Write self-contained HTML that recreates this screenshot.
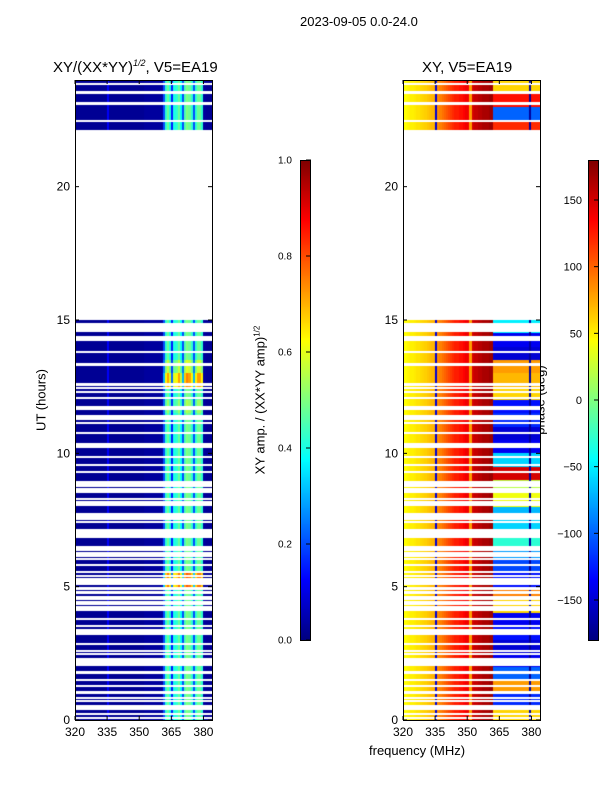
<!DOCTYPE html>
<html><head><meta charset="utf-8"><style>
body{margin:0;background:#fff;width:600px;height:800px;position:relative;overflow:hidden;font-family:"Liberation Sans",sans-serif;color:#000}
.t{position:absolute;white-space:nowrap}
canvas,svg{position:absolute}
</style></head><body>
<div class="t" style="left:300px;top:14px;font-size:13px">2023-09-05 0.0-24.0</div>
<div class="t" style="left:53px;top:58px;font-size:15px">XY/(XX*YY)<sup style="font-size:9px;font-style:italic">1/2</sup>, V5=EA19</div>
<div class="t" style="left:422px;top:59px;font-size:15px">XY, V5=EA19</div>
<div class="t" style="left:41px;top:400px;font-size:13px;transform:translate(-50%,-50%) rotate(-90deg)">UT (hours)</div>
<div class="t" style="left:369px;top:743px;font-size:13px">frequency (MHz)</div>
<div class="t" style="left:260px;top:400px;font-size:13px;transform:translate(-50%,-50%) rotate(-90deg)">XY amp. / (XX*YY amp)<sup style="font-size:8px">1/2</sup></div>
<div class="t" style="left:540px;top:400px;font-size:13px;transform:translate(-50%,-50%) rotate(-90deg)">phase (deg)</div>
<canvas id="amp" width="137" height="640" style="left:75px;top:80px"></canvas>
<canvas id="ph" width="137" height="640" style="left:403px;top:80px"></canvas>
<canvas id="cb1" width="10" height="480" style="left:300px;top:160px"></canvas>
<canvas id="cb2" width="10" height="480" style="left:588px;top:160px"></canvas>
<svg id="ov" width="600" height="800" style="left:0;top:0"></svg>
<script>
// ---- data ----
const freqMin = 320, freqMax = 384;
const ampProfile = [ // 1 MHz bins 320..383
0.02,0.02,0.02,0.02,0.02,0.02,0.02,0.02,0.02,0.02,0.02,0.02,0.02,0.02,0.02,0.12,
0.02,0.02,0.02,0.02,0.02,0.02,0.02,0.02,0.02,0.02,0.02,0.02,0.02,0.02,0.02,0.02,
0.03,0.03,0.03,0.03,0.03,0.03,0.03,0.03,0.03,0.2,0.42,0.48,0.4,0.15,0.4,0.42,
0.48,0.38,0.2,0.45,0.5,0.48,0.42,0.2,0.42,0.48,0.48,0.42,0.03,0.02,0.02,0.02];
const phaseProfile = [ // low band 1 MHz bins 320..361
45,45,48,50,50,52,55,55,58,60,62,65,68,70,72,-150,
85,90,95,100,105,110,115,120,125,125,130,130,135,140,140,80,
150,155,155,160,160,165,165,165,170,170];
const sectionHours = [0,0.5,1,1.5,2,2.5,3,3.5,4,4.5,5,5.5,6,6.5,7,7.5,8,8.5,9,9.5,10,10.5,11,11.5,12,12.5,13,13.5,14,14.5,22,22.5,23,23.5];
const hiPhase = [60,-120,80,-100,-140,-150,-130,-140,60,90,-130,-110,-80,-30,-60,-70,40,20,150,-60,-140,-150,-120,-130,60,70,80,-150,-140,-50,120,-100,130,60];
const ampGain = [1,1,1,1,1,1,1,1,1,1,1.6,1,1,1,1,1,1,1,1,1,1,1,1,1.1,1,1.5,1.2,1,1,1,1,1,1,1];
const dataRanges = [[0,15.06],[22.12,24]];
const gapHours = [14.83,14.73,14.65,14.58,14.30,13.79,13.33,12.58,12.45,12.29,12.08,11.75,11.67,11.35,11.13,10.75,10.29,9.85,9.56,9.31,8.85,8.66,8.57,8.29,8.12,7.72,7.63,7.54,7.44,7.13,7.03,6.95,6.85,6.47,6.37,6.20,6.03,5.82,5.56,5.41,5.22,5.10,4.93,4.78,4.62,4.53,4.44,4.34,4.19,3.78,3.53,3.30,2.84,2.59,2.49,2.19,1.78,1.49,1.28,1.03,0.84,0.71,0.46,0.21,0.09,23.85,23.53,23.12,22.47];
const gapWidth = [0.08,0.08,0.08,0.08,0.2,0.08,0.08,0.08,0.08,0.08,0.08,0.08,0.08,0.2,0.08,0.08,0.2,0.08,0.08,0.08,0.2,0.08,0.08,0.08,0.2,0.08,0.08,0.08,0.08,0.08,0.08,0.08,0.08,0.08,0.08,0.2,0.08,0.08,0.08,0.08,0.2,0.08,0.08,0.08,0.08,0.08,0.08,0.08,0.2,0.08,0.08,0.2,0.08,0.08,0.08,0.3,0.08,0.08,0.08,0.08,0.08,0.08,0.2,0.08,0.08,0.08,0.08,0.08,0.08];
const yTicks = [0,5,10,15,20];
const xTicks = [320,335,350,365,380];
const ampTicks = [0.0,0.2,0.4,0.6,0.8,1.0];
const phaseTicks = [-150,-100,-50,0,50,100,150];
// ---- scales ----
const W=137,H=640;
const xs = f => (f-freqMin)*W/(freqMax-freqMin);
const ys = h => (24-h)*H/24;
function jet(v){v=Math.max(0,Math.min(1,v));const c=x=>Math.round(255*Math.max(0,Math.min(1,1.5-Math.abs(x))));return `rgb(${c(4*v-3)},${c(4*v-2)},${c(4*v-1)})`;}
function draw(id,valFn){
  const ctx=document.getElementById(id).getContext('2d');
  ctx.imageSmoothingEnabled=false;
  ctx.fillStyle='#fff';ctx.fillRect(0,0,W,H);
  sectionHours.forEach((h0,si)=>{
    const h1=h0+0.5;
    const y0=Math.round(ys(h1)),y1=Math.round(ys(h0));
    for(let b=0;b<64;b++){
      ctx.fillStyle=jet(valFn(si,b));
      const x0=Math.round(xs(freqMin+b)),x1=Math.round(xs(freqMin+b+1));
      ctx.fillRect(x0,y0,x1-x0,y1-y0);
    }
  });
  ctx.fillStyle='#fff';
  const ta=Math.round(ys(dataRanges[1][0])),tb=Math.round(ys(dataRanges[0][1]));
  ctx.fillRect(0,ta,W,tb-ta);
  gapHours.forEach((g,i)=>{const w=gapWidth[i];
    const a=Math.round(ys(g+w/2));let b=Math.round(ys(g-w/2));if(b-a<2)b=a+2;
    ctx.fillRect(0,a,W,b-a);});
}
draw('amp',(si,b)=>ampProfile[b]*(b>=40&&b<60?ampGain[si]:1));
draw('ph',(si,b)=>{const p=b<42?phaseProfile[b]:(b===59?-170:hiPhase[si]);return (p+180)/360;});
function cbar(id){const c=document.getElementById(id).getContext('2d');for(let i=0;i<480;i++){c.fillStyle=jet(1-i/479);c.fillRect(0,i,10,1);}}
cbar('cb1');cbar('cb2');
// ---- axes overlay ----
const svg=document.getElementById('ov');const NS='http://www.w3.org/2000/svg';
function el(t,a,txt){const e=document.createElementNS(NS,t);for(const k in a)e.setAttribute(k,a[k]);if(txt!==undefined)e.textContent=txt;svg.appendChild(e);return e;}
[75,403].forEach((L,pi)=>{
  const fr=el('rect',{x:L+0.5,y:80.5,width:W,height:H,fill:'none',stroke:'#000','stroke-width':1});
  
  
  yTicks.forEach(v=>{const y=80+ys(v);
    el('line',{x1:L,x2:L+4,y1:y,y2:y,stroke:'#000'});el('line',{x1:L+W-4,x2:L+W,y1:y,y2:y,stroke:'#000'});
    const t=el('text',{x:L-5,y:y+4,'text-anchor':'end','font-size':12,'font-family':'Liberation Sans'},String(v));
    
    });
  xTicks.forEach(v=>{const x=L+xs(v);
    el('line',{x1:x,x2:x,y1:80+H,y2:80+H-4,stroke:'#000'});el('line',{x1:x,x2:x,y1:80,y2:84,stroke:'#000'});
    const t=el('text',{x:x,y:736,'text-anchor':'middle','font-size':12,'font-family':'Liberation Sans'},String(v));
    
    });
});
el('rect',{x:300.5,y:160.5,width:10,height:480,fill:'none',stroke:'#000'});
el('rect',{x:588.5,y:160.5,width:10,height:480,fill:'none',stroke:'#000'});
ampTicks.forEach(v=>{const y=640-v*480;
  el('line',{x1:306,x2:311,y1:y,y2:y,stroke:'#000'});
  const t=el('text',{x:278,y:y+3.5,'font-size':10,'font-family':'Liberation Sans'},v.toFixed(1));
  
  });
phaseTicks.forEach(v=>{const y=160+(180-v)/360*480;
  el('line',{x1:594,x2:599,y1:y,y2:y,stroke:'#000'});
  const t=el('text',{x:582,y:y+4,'text-anchor':'end','font-size':11,'font-family':'Liberation Sans'},v<0?'\u2212'+Math.abs(v):String(v));
  
  });
</script>
</body></html>
